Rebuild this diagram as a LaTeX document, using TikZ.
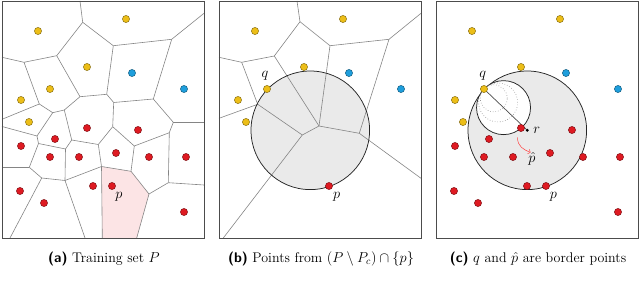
\documentclass[tikz,border=0pt]{standalone}
\usepackage{amsmath,amssymb}
\usetikzlibrary{arrows.meta, calc}

\definecolor{ptyel}{RGB}{236,190,24}
\definecolor{ptblu}{RGB}{30,158,220}
\definecolor{ptred}{RGB}{222,26,34}
\definecolor{cellpink}{RGB}{252,228,229}
\definecolor{discgray}{RGB}{234,234,234}

% sample positions, given in the frame of panel (a)
\newcommand{\yelpts}{38/31, 126/19, 87/67, 50/89, 21/100, 29/122}
\newcommand{\blupts}{132/73, 184/89}
\newcommand{\redpts}{87/128, 138/130, 55/139, 21/146, 50/157, 79/157,
  116/153, 149/157, 186/157, 20/191, 44/203, 93/186, 112/186, 184/212}

\newcommand{\drawpts}[1]{%
  \foreach \x/\y [count=\i] in \yelpts {\node[pt=ptyel] (#1y\i) at (\x,\y) {};}
  \foreach \x/\y [count=\i] in \blupts {\node[pt=ptblu] (#1b\i) at (\x,\y) {};}
  \foreach \x/\y [count=\i] in \redpts {\node[pt=ptred] (#1r\i) at (\x,\y) {};}
}

\begin{document}
\begin{tikzpicture}[x=1pt, y=-1pt,
  frame/.style={draw=black!70, line width=0.8pt},
  vor/.style={draw=black!48, line width=0.6pt},
  pt/.style={circle, draw=#1!55!black, fill=#1, line width=0.45pt,
             minimum size=7.2pt, inner sep=0pt},
  disc/.style={draw=black!85, line width=0.75pt},
  dots/.style={draw=black!45, dotted, line width=0.6pt},
  qr/.style={draw=black!70, line width=0.7pt},
  hatarr/.style={draw=red!75, line width=0.5pt, -{To[length=2.5pt]}},
  lbl/.style={font=\fontsize{14.5}{16}\selectfont},
  subcap/.style={font=\fontsize{14}{16}\selectfont, anchor=base}
]
\useasboundingbox (0,0) rectangle (640,283);

%% (a) Voronoi cells of the training set
\begin{scope}
\coordinate (v1) at (82.7,22.3);
\coordinate (v2) at (113.3,45.7);
\coordinate (v3) at (171.7,39.3);
\coordinate (v4) at (56.7,55.7);
\coordinate (v5) at (24,62.3);
\coordinate (v6) at (80,96.7);
\coordinate (v7) at (106.7,94.3);
\coordinate (v8) at (153.3,99);
\coordinate (v9) at (39.3,104);
\coordinate (v10) at (52.7,112.7);
\coordinate (v11) at (64.3,110);
\coordinate (v12) at (113.7,102.5);
\coordinate (v13) at (173.3,122.3);
\coordinate (v14) at (37,136);
\coordinate (v15) at (38.5,143.5);
\coordinate (v16) at (71.7,140);
\coordinate (v17) at (65.5,149);
\coordinate (v18) at (98.3,144.5);
\coordinate (v19) at (112.7,126.7);
\coordinate (v20) at (134.3,146);
\coordinate (v21) at (169.3,132.7);
\coordinate (v22) at (29.3,167.3);
\coordinate (v23) at (41.7,178);
\coordinate (v24) at (65,180.5);
\coordinate (v25) at (101.5,166.5);
\coordinate (v26) at (131,171.3);
\coordinate (v27) at (149,194);
\coordinate (v28) at (168.3,182.7);
% where the cells meet the frame
\coordinate (e1) at (80,1);
\coordinate (e2) at (204,13.3);
\coordinate (e3) at (2,57.3);
\coordinate (e4) at (204,122.3);
\coordinate (e5) at (204,185);
\coordinate (e6) at (136.7,238);
\coordinate (e7) at (102.3,238);
\coordinate (e8) at (85,238);
\coordinate (e9) at (10,238);
\coordinate (e10) at (2,167.3);
\coordinate (e11) at (2,126.5);
\coordinate (e12) at (2,119.3);

\fill[cellpink] (v25) -- (v26) -- (v27) -- (e6) -- (e7) -- cycle;
\foreach \s/\t in {e1/v1, v1/v2, v1/v4, v2/v3, v3/e2, v2/v7, v3/v8,
    v4/v5, v5/e3, v4/v6, v5/v9, v6/v7, v7/v12, v12/v8, v8/v13, v13/e4,
    v13/v21, v21/v20, v21/v28, v28/e5, v28/v27, v27/v26, v27/e6, v26/v20,
    v26/v25, v20/v19, v19/v12, v19/v18, v18/v25, v18/v16, v25/v24, v25/e7,
    v24/v17, v24/v23, v24/e8, v23/v22, v23/e9, v22/v15, v22/e10, v15/v14,
    v15/v17, v17/v16, v16/v11, v14/e11, v14/v10, v10/v9, v10/v11, v9/e12,
    v11/v6}
  \draw[vor] (\s) -- (\t);
\draw[frame] (2,1) rectangle (204,238);
\drawpts{a}
\node[lbl] (a-p) at (119,197) {$p$};
\node[subcap] (a-cap) at (104,262) {\textsf{\textbf{(a)}} Training set $P$};
\end{scope}

%% (b) cells without the red class, disc through p and q
\begin{scope}[xshift=217pt]
\coordinate (w1) at (83,21.7);
\coordinate (w2) at (57.3,56);
\coordinate (w3) at (24.7,62.3);
\coordinate (w4) at (40.7,104.3);
\coordinate (w5) at (85.3,135);
\coordinate (w6) at (102,126);
\coordinate (w7) at (113,45.7);
\coordinate (w8) at (172,39.3);
\coordinate (w9) at (142.3,133.3);
\coordinate (f1) at (80,1);
\coordinate (f2) at (204,13.3);
\coordinate (f3) at (2,57.3);
\coordinate (f4) at (2,118.3);
\coordinate (f5) at (6.3,238);
\coordinate (f6) at (204,178.3);
\coordinate (rb) at (93.3,130.3);

\fill[discgray] (rb) circle[radius=59.3pt];
\foreach \s/\t in {f1/w1, w1/w2, w1/w7, w7/w8, w8/f2, w2/w3, w3/f3,
    w3/w4, w4/f4, w2/w6, w4/w5, w5/w6, w5/f5, w7/w6, w6/w9, w9/w8, w9/f6}
  \draw[vor] (\s) -- (\t);
\draw[disc] (rb) circle[radius=59.3pt];
\draw[frame] (2,1) rectangle (204,238);
\foreach \x/\y [count=\i] in \yelpts {\node[pt=ptyel] (by\i) at (\x,\y) {};}
\foreach \x/\y [count=\i] in \blupts {\node[pt=ptblu] (bb\i) at (\x,\y) {};}
\node[pt=ptred] (bp) at (112,186) {};
\node[lbl] (b-q) at (48,76) {$q$};
\node[lbl] (b-p) at (119.7,196.7) {$p$};
\node[subcap] (b-cap) at (104,262)
  {\textsf{\textbf{(b)}} Points from $(P \setminus P_c) \cap \{p\}$};
\end{scope}

%% (c) shrinking discs from q towards r
\begin{scope}[xshift=434pt]
\coordinate (rc) at (93.3,130.3);
\coordinate (qc) at (50,89);
\coordinate (arr-s) at (83.5,137.5);
\coordinate (arr-e) at (96.5,152.5);

\fill[discgray] (rc) circle[radius=59.3pt];
\draw[disc] (rc) circle[radius=59.3pt];
\draw[disc, fill=white] ($(qc)!27pt!(rc)$) circle[radius=27pt];
\draw[dots] ($(qc)!19.5pt!(rc)$) circle[radius=19.5pt];
\draw[dots] ($(qc)!13.5pt!(rc)$) circle[radius=13.5pt];
\draw[qr] (qc) -- (rc);
\draw[frame] (2,1) rectangle (204,238);
\drawpts{c}
\node[circle, fill=black, inner sep=0pt, minimum size=3.2pt] (r) at (rc) {};
\draw[hatarr] (arr-s) .. controls +(0,9) and +(-7,-3) .. (arr-e);
\node[lbl] (c-q) at (48.7,76) {$q$};
\node[lbl] (c-r) at (102.7,130.3) {$r$};
\node[lbl] (c-ph) at (98,159) {$\hat{p}$};
\node[lbl] (c-p) at (119.3,196.7) {$p$};
\node[subcap] (c-cap) at (104,262)
  {\textsf{\textbf{(c)}} $q$ and $\hat{p}$ are border points};
\end{scope}
\end{tikzpicture}
\end{document}
